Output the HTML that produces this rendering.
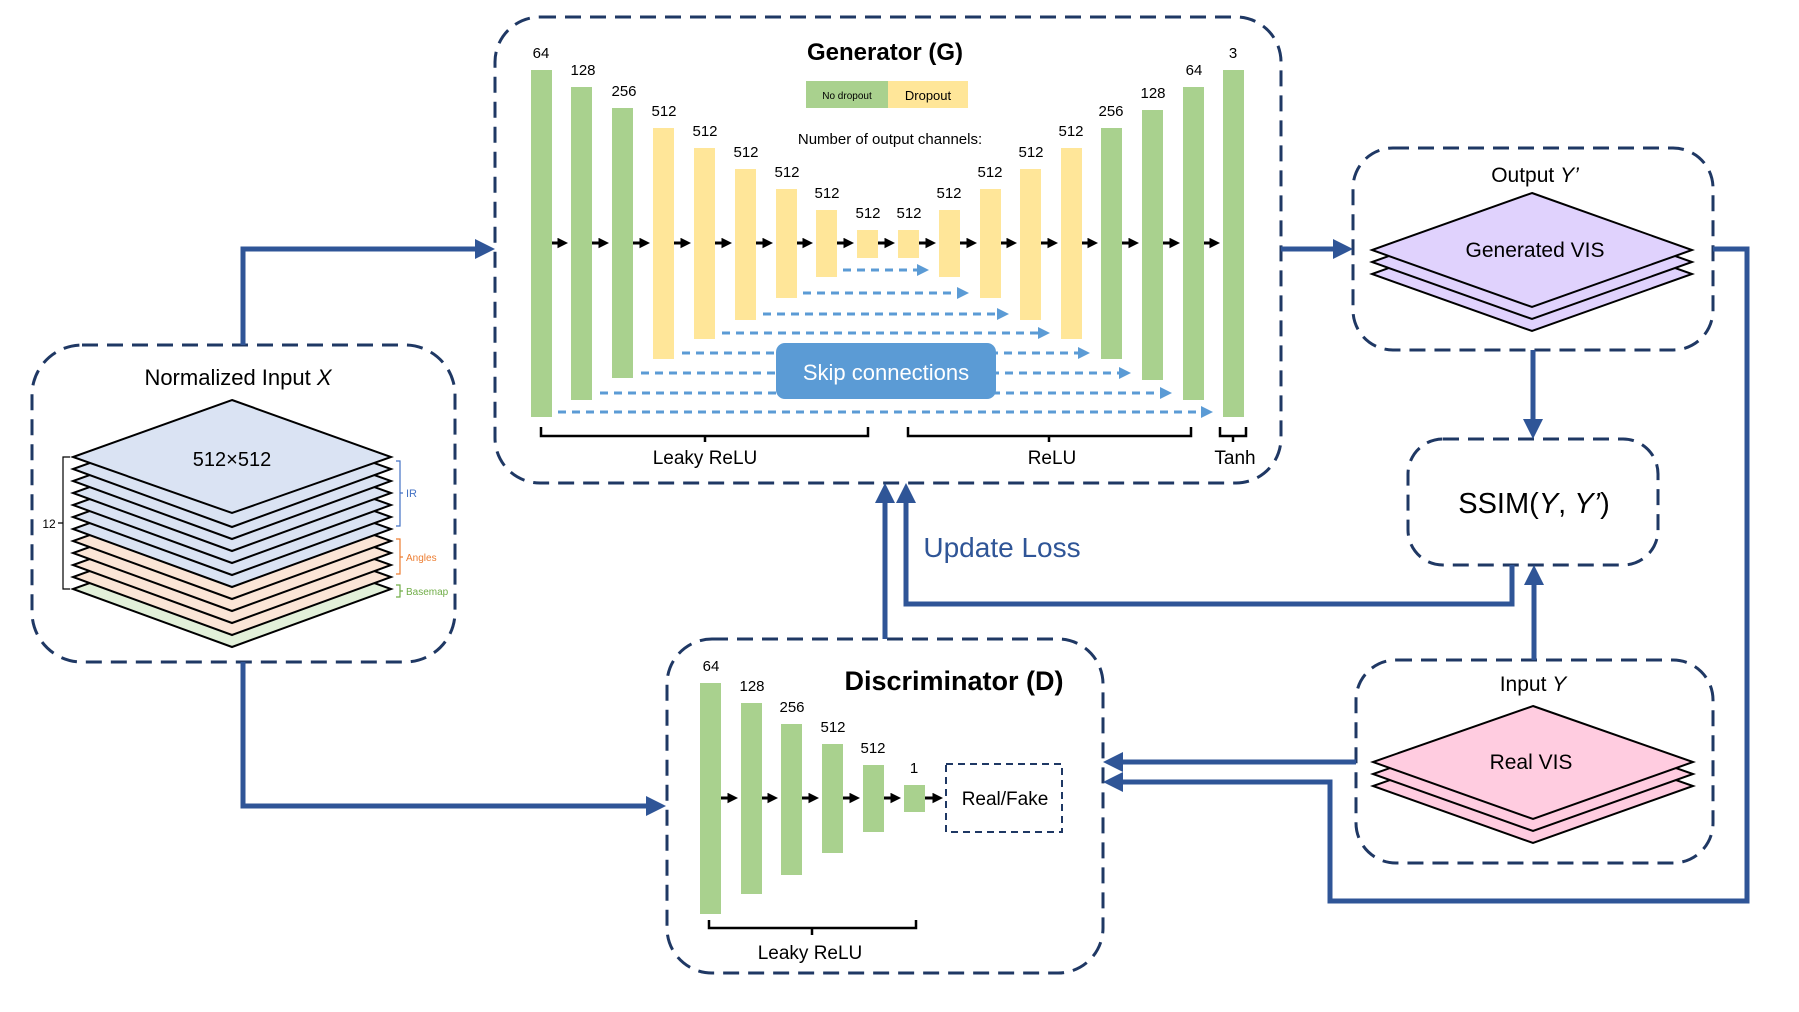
<!DOCTYPE html>
<html><head><meta charset="utf-8"><style>
html,body{margin:0;padding:0;background:#fff;}
svg{display:block;font-family:"Liberation Sans",sans-serif;}
</style></head><body>
<svg width="1799" height="1012" viewBox="0 0 1799 1012" xmlns="http://www.w3.org/2000/svg">
<defs>
<marker id="bh" markerWidth="4" markerHeight="4" refX="3" refY="2" orient="auto" markerUnits="strokeWidth"><path d="M0,0 L4,2 L0,4 z" fill="#2f5597"/></marker>
<marker id="kh" markerWidth="3.5" markerHeight="3.5" refX="2.5" refY="1.75" orient="auto" markerUnits="strokeWidth"><path d="M0,0 L3.5,1.75 L0,3.5 z" fill="#000"/></marker>
<marker id="sh" markerWidth="4" markerHeight="4" refX="3" refY="2" orient="auto" markerUnits="strokeWidth"><path d="M0,0 L4,2 L0,4 z" fill="#5b9bd5"/></marker>
</defs>

<!-- dashed boxes -->
<g fill="none" stroke="#1f3864" stroke-width="3" stroke-dasharray="16 9">
<rect x="495" y="17" width="786" height="466" rx="45"/>
<rect x="32" y="345" width="423" height="317" rx="50"/>
<rect x="1353" y="148" width="360" height="202" rx="40"/>
<rect x="1408" y="439" width="250" height="126" rx="35"/>
<rect x="1356" y="660" width="357" height="203" rx="40"/>
<rect x="667" y="639" width="436" height="334" rx="45"/>
</g>

<!-- blue connectors -->
<g fill="none" stroke="#2f5597" stroke-width="5">
<polyline points="243,345 243,249 490,249" marker-end="url(#bh)"/>
<polyline points="243,662 243,806 661,806" marker-end="url(#bh)"/>
<polyline points="1281,249 1348,249" marker-end="url(#bh)"/>
<polyline points="1713,249 1747,249 1747,901 1330,901 1330,782 1108,782" marker-end="url(#bh)"/>
<polyline points="1356,762 1108,762" marker-end="url(#bh)"/>
<polyline points="1533,350 1533,434" marker-end="url(#bh)"/>
<polyline points="1534,660 1534,570" marker-end="url(#bh)"/>
<polyline points="1512,565 1512,604 906,604 906,488" marker-end="url(#bh)"/>
<polyline points="885,639 885,488" marker-end="url(#bh)"/>
</g>
<text x="1002" y="557" font-size="28" fill="#2f5597" text-anchor="middle">Update Loss</text>

<!-- Normalized input -->
<text x="238" y="385" font-size="22" text-anchor="middle">Normalized Input <tspan font-style="italic">X</tspan></text>
<g stroke="#000" stroke-width="2">
<polygon points="232,532 391,589 232,647 73,589" fill="#e2f0d9"/>
<polygon points="232,520 391,577 232,635 73,577" fill="#fbe5d6"/>
<polygon points="232,508 391,565 232,623 73,565" fill="#fbe5d6"/>
<polygon points="232,496 391,553 232,611 73,553" fill="#fbe5d6"/>
<polygon points="232,484 391,541 232,599 73,541" fill="#fbe5d6"/>
<polygon points="232,472 391,529 232,587 73,529" fill="#dae3f3"/>
<polygon points="232,460 391,517 232,575 73,517" fill="#dae3f3"/>
<polygon points="232,448 391,505 232,563 73,505" fill="#dae3f3"/>
<polygon points="232,436 391,493 232,551 73,493" fill="#dae3f3"/>
<polygon points="232,424 391,481 232,539 73,481" fill="#dae3f3"/>
<polygon points="232,412 391,469 232,527 73,469" fill="#dae3f3"/>
<polygon points="232,400 391,457 232,513 73,457" fill="#dae3f3"/>
</g>
<text x="232" y="466" font-size="20" text-anchor="middle">512×512</text>
<path d="M70,457 H63 V589 H70 M63,523 H58" fill="none" stroke="#000" stroke-width="1.2"/>
<text x="49" y="528" font-size="12" text-anchor="middle">12</text>
<path d="M396,461 H400 V526 H396 M400,493 H403" fill="none" stroke="#4472c4" stroke-width="1.2"/>
<text x="406" y="497" font-size="11" fill="#4472c4">IR</text>
<path d="M396,539 H400 V574 H396 M400,557 H403" fill="none" stroke="#ed7d31" stroke-width="1.2"/>
<text x="406" y="561" font-size="10" fill="#ed7d31">Angles</text>
<path d="M396,585 H400 V597 H396 M400,591 H403" fill="none" stroke="#70ad47" stroke-width="1.2"/>
<text x="406" y="595" font-size="10" fill="#70ad47">Basemap</text>

<!-- Generator -->
<text x="885" y="60" font-size="24" font-weight="bold" text-anchor="middle">Generator (G)</text>
<rect x="806" y="81" width="82" height="27" fill="#a9d18e"/>
<rect x="888" y="81" width="80" height="27" fill="#ffe699"/>
<text x="847" y="99" font-size="10" text-anchor="middle">No dropout</text>
<text x="928" y="100" font-size="13" text-anchor="middle">Dropout</text>
<text x="890" y="144" font-size="15" text-anchor="middle">Number of output channels:</text>
<g>
<rect x="531" y="70" width="21" height="347" fill="#a9d18e"/>
<rect x="571" y="87" width="21" height="313" fill="#a9d18e"/>
<rect x="612" y="108" width="21" height="270" fill="#a9d18e"/>
<rect x="653" y="128" width="21" height="231" fill="#ffe699"/>
<rect x="694" y="148" width="21" height="191" fill="#ffe699"/>
<rect x="735" y="169" width="21" height="151" fill="#ffe699"/>
<rect x="776" y="189" width="21" height="109" fill="#ffe699"/>
<rect x="816" y="210" width="21" height="67" fill="#ffe699"/>
<rect x="857" y="230" width="21" height="28" fill="#ffe699"/>
<rect x="898" y="230" width="21" height="28" fill="#ffe699"/>
<rect x="939" y="210" width="21" height="67" fill="#ffe699"/>
<rect x="980" y="189" width="21" height="109" fill="#ffe699"/>
<rect x="1020" y="169" width="21" height="151" fill="#ffe699"/>
<rect x="1061" y="148" width="21" height="191" fill="#ffe699"/>
<rect x="1101" y="128" width="21" height="231" fill="#a9d18e"/>
<rect x="1142" y="110" width="21" height="270" fill="#a9d18e"/>
<rect x="1183" y="87" width="21" height="313" fill="#a9d18e"/>
<rect x="1223" y="70" width="21" height="347" fill="#a9d18e"/>
</g>
<g font-size="15" text-anchor="middle">
<text x="541" y="58">64</text><text x="583" y="75">128</text><text x="624" y="96">256</text>
<text x="664" y="116">512</text><text x="705" y="136">512</text><text x="746" y="157">512</text>
<text x="787" y="177">512</text><text x="827" y="198">512</text><text x="868" y="218">512</text>
<text x="909" y="218">512</text><text x="949" y="198">512</text><text x="990" y="177">512</text>
<text x="1031" y="157">512</text><text x="1071" y="136">512</text><text x="1111" y="116">256</text>
<text x="1153" y="98">128</text><text x="1194" y="75">64</text><text x="1233" y="58">3</text>
</g>
<g stroke="#000" stroke-width="3" marker-end="url(#kh)">
<line x1="552" y1="243" x2="565" y2="243"/><line x1="592" y1="243" x2="606" y2="243"/>
<line x1="633" y1="243" x2="647" y2="243"/><line x1="674" y1="243" x2="688" y2="243"/>
<line x1="715" y1="243" x2="729" y2="243"/><line x1="756" y1="243" x2="770" y2="243"/>
<line x1="797" y1="243" x2="810" y2="243"/><line x1="837" y1="243" x2="851" y2="243"/>
<line x1="878" y1="243" x2="892" y2="243"/><line x1="919" y1="243" x2="933" y2="243"/>
<line x1="960" y1="243" x2="974" y2="243"/><line x1="1001" y1="243" x2="1014" y2="243"/>
<line x1="1041" y1="243" x2="1055" y2="243"/><line x1="1082" y1="243" x2="1095" y2="243"/>
<line x1="1122" y1="243" x2="1136" y2="243"/><line x1="1163" y1="243" x2="1177" y2="243"/>
<line x1="1204" y1="243" x2="1217" y2="243"/>
</g>
<g stroke="#5b9bd5" stroke-width="3" stroke-dasharray="8 6" marker-end="url(#sh)">
<line x1="843" y1="270" x2="926" y2="270"/>
<line x1="803" y1="293" x2="966" y2="293"/>
<line x1="763" y1="314" x2="1006" y2="314"/>
<line x1="722" y1="333" x2="1047" y2="333"/>
<line x1="682" y1="353" x2="1087" y2="353"/>
<line x1="641" y1="373" x2="1128" y2="373"/>
<line x1="600" y1="393" x2="1169" y2="393"/>
<line x1="558" y1="412" x2="1210" y2="412"/>
</g>
<rect x="776" y="343" width="220" height="56" rx="9" fill="#5b9bd5"/>
<text x="886" y="380" font-size="22" fill="#fff" text-anchor="middle">Skip connections</text>
<g fill="none" stroke="#000" stroke-width="2.5">
<path d="M541,427 V436 H868 V427 M705,436 V442"/>
<path d="M908,427 V436 H1191 V427 M1049,436 V442"/>
<path d="M1220,427 V436 H1246 V427 M1233,436 V442"/>
</g>
<g font-size="19" text-anchor="middle">
<text x="705" y="464">Leaky ReLU</text><text x="1052" y="464">ReLU</text><text x="1235" y="464">Tanh</text>
</g>

<!-- Output Y' -->
<text x="1535" y="182" font-size="21" text-anchor="middle">Output <tspan font-style="italic">Y’</tspan></text>
<g stroke="#000" stroke-width="2" fill="#e0d2fd">
<polygon points="1532,217 1692,274 1532,331 1372,274"/>
<polygon points="1532,205 1692,262 1532,319 1372,262"/>
<polygon points="1532,193 1692,250 1532,307 1372,250"/>
</g>
<text x="1535" y="257" font-size="21" text-anchor="middle">Generated VIS</text>

<!-- SSIM -->
<text x="1534" y="513" font-size="29" text-anchor="middle">SSIM(<tspan font-style="italic">Y</tspan>, <tspan font-style="italic">Y’</tspan>)</text>

<!-- Input Y -->
<text x="1533" y="691" font-size="21" text-anchor="middle">Input <tspan font-style="italic">Y</tspan></text>
<g stroke="#000" stroke-width="2" fill="#ffcce0">
<polygon points="1533,730 1693,786 1533,843 1373,786"/>
<polygon points="1533,718 1693,774 1533,831 1373,774"/>
<polygon points="1533,706 1693,762 1533,819 1373,762"/>
</g>
<text x="1531" y="769" font-size="21" text-anchor="middle">Real VIS</text>

<!-- Discriminator -->
<text x="954" y="690" font-size="27" font-weight="bold" text-anchor="middle">Discriminator (D)</text>
<g fill="#a9d18e">
<rect x="700" y="683" width="21" height="231"/>
<rect x="741" y="703" width="21" height="191"/>
<rect x="781" y="724" width="21" height="151"/>
<rect x="822" y="744" width="21" height="109"/>
<rect x="863" y="765" width="21" height="67"/>
<rect x="904" y="785" width="21" height="27"/>
</g>
<g font-size="15" text-anchor="middle">
<text x="711" y="671">64</text><text x="752" y="691">128</text><text x="792" y="712">256</text>
<text x="833" y="732">512</text><text x="873" y="753">512</text><text x="914" y="773">1</text>
</g>
<g stroke="#000" stroke-width="3" marker-end="url(#kh)">
<line x1="721" y1="798" x2="735" y2="798"/><line x1="762" y1="798" x2="775" y2="798"/>
<line x1="802" y1="798" x2="816" y2="798"/><line x1="843" y1="798" x2="857" y2="798"/>
<line x1="884" y1="798" x2="898" y2="798"/><line x1="925" y1="798" x2="940" y2="798"/>
</g>
<rect x="946" y="764" width="116" height="68" fill="none" stroke="#1f3864" stroke-width="2" stroke-dasharray="7 5"/>
<text x="1005" y="805" font-size="19" text-anchor="middle">Real/Fake</text>
<path d="M709,920 V928 H916 V920 M812,928 V935" fill="none" stroke="#000" stroke-width="2.5"/>
<text x="810" y="959" font-size="19" text-anchor="middle">Leaky ReLU</text>
</svg>
</body></html>
